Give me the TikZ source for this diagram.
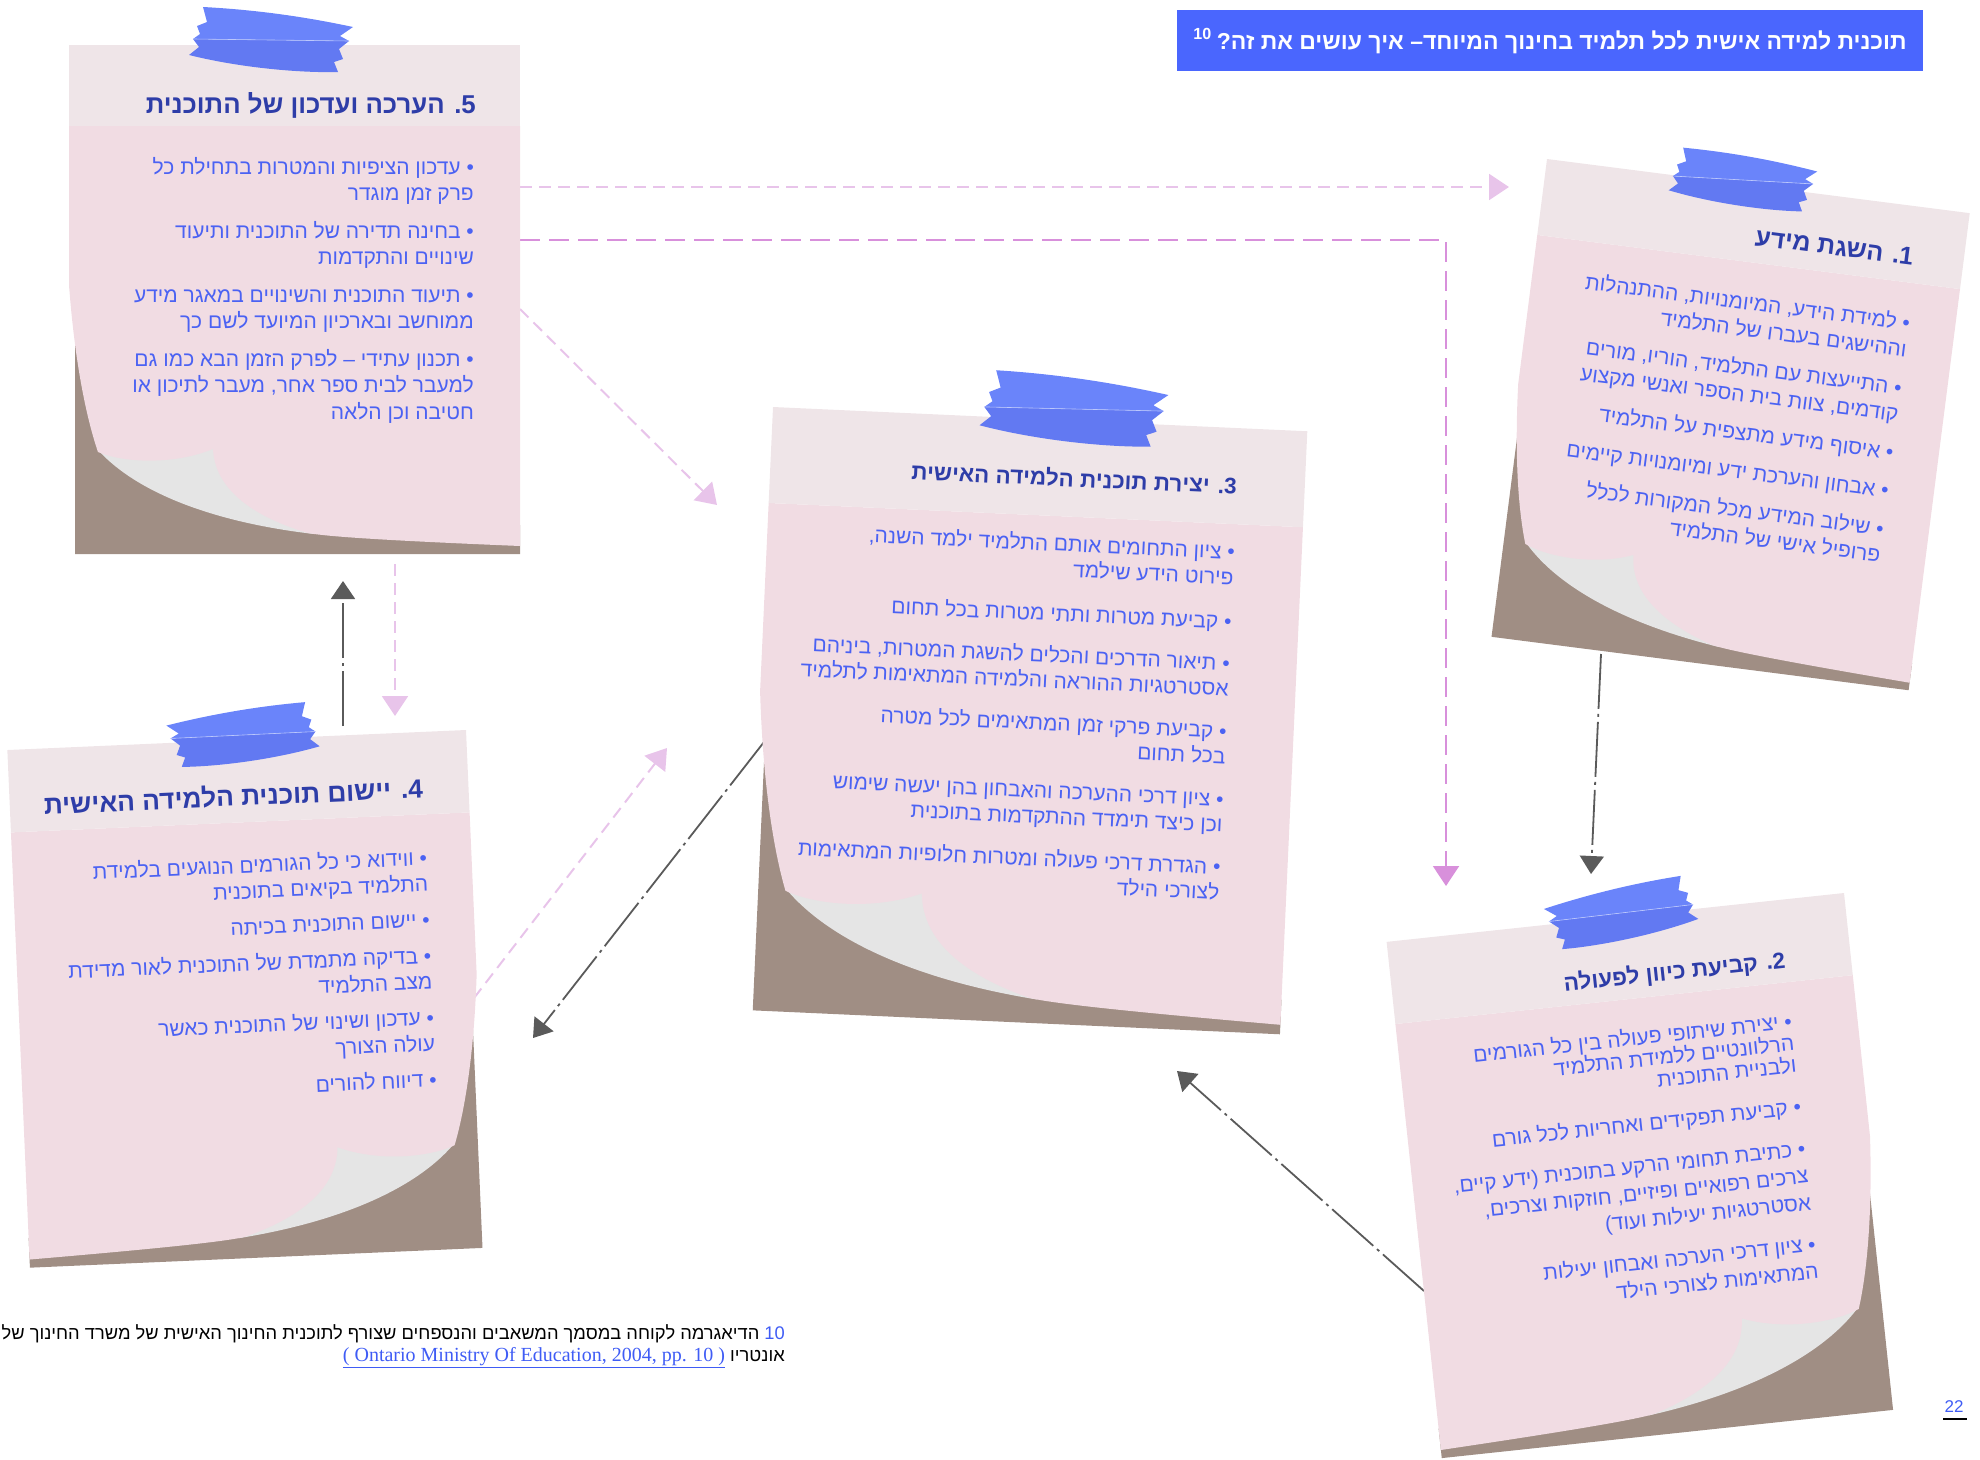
\documentclass[tikz,border=0pt]{standalone}
\usepackage{fontspec}
\usetikzlibrary{arrows.meta}
\setmainfont{Liberation Sans}
\newfontfamily\hebfont[Script=Hebrew]{Liberation Sans}
\newfontfamily\citefont{Liberation Serif}
\TeXXeTstate=1
\newcommand{\heb}[1]{\beginR #1\endR}

\definecolor{headpink}{HTML}{EFE5E8}
\definecolor{bodypink}{HTML}{F1DCE3}
\definecolor{curlgray}{HTML}{E5E5E5}
\definecolor{shadowbrown}{HTML}{A08E84}
\definecolor{tapelight}{HTML}{6A84FA}
\definecolor{tapedark}{HTML}{6279F2}
\definecolor{titleblue}{HTML}{2E3DA8}
\definecolor{textblue}{HTML}{4B62F3}
\definecolor{boxblue}{HTML}{4A66FE}
\definecolor{linkblue}{HTML}{3F5CF5}
\definecolor{arrowpink}{HTML}{E8C4EA}
\definecolor{arrowviolet}{HTML}{D890DB}
\definecolor{arrowgray}{HTML}{5A5A5A}

% hoja con esquina doblada (451 x 509)
\newcommand{\notepaper}{%
  \fill[shadowbrown] (6,240) -- (6,509) -- (451,509) -- (451,480) -- cycle;
  \fill[curlgray] (29,405) .. controls (70,450) and (150,478) .. (245,489) -- (200,390) -- (29,390) -- cycle;
  \fill[bodypink] (0,81) -- (451,81) -- (451,501) .. controls (330,496) and (260,492) .. (239,488)
    .. controls (185,472) and (146,445) .. (144,404) .. controls (105,420) and (55,418) .. (29,407)
    .. controls (18,375) and (6,320) .. (0,240) -- cycle;
  \fill[headpink] (0,0) rectangle (451,81);
}
% cinta adhesiva
\newcommand{\notetape}{%
  \fill[tapelight] (-68,-33) .. controls (-10,-30) and (40,-22) .. (82,-13) -- (69,-4) -- (78,1) -- (-78,-1) -- (-71,-6) -- (-74,-14) -- (-64,-18) -- cycle;
  \fill[tapedark] (-78,-1) -- (78,1) -- (68,9) -- (72,19) -- (63,22) -- (67,32) .. controls (30,33) and (-30,28) .. (-82,15) -- (-72,7) -- cycle;
  \draw[white!55!tapelight, line width=0.6pt] (-78,-1) -- (78,1);
}

\tikzset{
  pinkarrow/.style={arrowpink, line width=2pt, dash pattern=on 12pt off 7pt, -{Triangle[length=20pt,width=26pt]}},
  violetarrow/.style={arrowviolet, line width=2pt, dash pattern=on 20pt off 9pt, -{Triangle[length=20pt,width=26pt]}},
  grayarrow/.style={arrowgray, line width=1.8pt, dash pattern=on 55pt off 5pt on 3pt off 5pt, -{Triangle[length=18pt,width=24pt]}},
  notetitle/.style={font=\hebfont\bfseries\fontsize{25}{30}\selectfont, text=titleblue, inner sep=0pt, anchor=base east},
  notebody/.style={font=\hebfont\fontsize{21}{26.5}\selectfont, text=textblue, inner sep=0pt, align=right, anchor=north east},
}

\begin{document}
\begin{tikzpicture}[x=1pt, y=-1pt]
\useasboundingbox (0,0) rectangle (1980,1459);

% Flechas entre las notas
\coordinate (a51s) at (520,187);   \coordinate (a51e) at (1509,187);
\coordinate (a52s) at (520,240);   \coordinate (a52c) at (1446,240);  \coordinate (a52e) at (1446,886);
\coordinate (a53s) at (520,309);   \coordinate (a53e) at (717,505);
\coordinate (a54s) at (395,564);   \coordinate (a54e) at (395,716);
\coordinate (a45s) at (343,726);   \coordinate (a45e) at (343,581);
\coordinate (a43s) at (474,998);   \coordinate (a43e) at (667,748);
\coordinate (a34s) at (764,742);   \coordinate (a34e) at (533,1038);
\coordinate (a12s) at (1601,654);  \coordinate (a12e) at (1591,874);
\coordinate (a23s) at (1424,1291); \coordinate (a23e) at (1177,1071);
\draw[pinkarrow] (a51s) -- (a51e);
\draw[violetarrow] (a52s) -- (a52c) -- (a52e);
\draw[pinkarrow] (a53s) -- (a53e);
\draw[pinkarrow] (a54s) -- (a54e);
\draw[pinkarrow] (a43s) -- (a43e);
\draw[grayarrow] (a45s) -- (a45e);
\draw[grayarrow] (a34s) -- (a34e);
\draw[grayarrow] (a12s) -- (a12e);
\draw[grayarrow] (a23s) -- (a23e);

% Hojas
\begin{scope}[shift={(69,45)}] \notepaper \end{scope}
\begin{scope}[shift={(1547,159)}, rotate=-7.3, scale=0.945] \notepaper \end{scope}
\begin{scope}[shift={(773,407)}, rotate=-2.6, scale=1.186] \notepaper \end{scope}
\begin{scope}[shift={(466,730)}, rotate=2.5, xscale=-1, scale=1.018] \notepaper \end{scope}
\begin{scope}[shift={(1844,893)}, rotate=6.1, xscale=-1, scale=1.02] \notepaper \end{scope}

% Cintas
\begin{scope}[shift={(271,40)}] \notetape \end{scope}
\begin{scope}[shift={(1743,180)}, rotate=-2.5, scale=0.9] \notetape \end{scope}
\begin{scope}[shift={(1074,409)}, rotate=-0.6, scale=1.15] \notetape \end{scope}
\begin{scope}[shift={(243,735)}, rotate=2, xscale=-1, scale=0.93] \notetape \end{scope}
\begin{scope}[shift={(1621,913)}, rotate=6, xscale=-1, scale=0.93] \notetape \end{scope}

% Titulo
\fill[boxblue] (1177,10) rectangle (1923,71);
\node[font=\hebfont\bfseries\fontsize{23}{28}\selectfont, text=white, anchor=base, inner sep=0pt] (ttl) at (1550,49)
  {\heb{תוכנית למידה אישית לכל תלמיד בחינוך המיוחד\kern0pt– איך עושים את זה\kern0pt?\kern5pt\textsuperscript{10}}};

% Nota 5
\begin{scope}[shift={(69,45)}]
\node[notetitle, font=\hebfont\bfseries\fontsize{25.8}{30}\selectfont] (t5) at (407,68) {\heb{5\kern0pt. הערכה ועדכון של התוכנית}};
\node[notebody] (b5) at (405,110.5) {\strut\heb{• עדכון הציפיות והמטרות בתחילת כל}\\
  \heb{פרק זמן מוגדר}\\[11pt]
  \heb{• בחינה תדירה של התוכנית ותיעוד}\\
  \heb{שינויים והתקדמות}\\[11pt]
  \heb{• תיעוד התוכנית והשינויים במאגר מידע}\\
  \heb{ממוחשב ובארכיון המיועד לשם כך}\\[11pt]
  \heb{• תכנון עתידי – לפרק הזמן הבא כמו גם}\\
  \heb{למעבר לבית ספר אחר, מעבר לתיכון או}\\
  \heb{חטיבה וכן הלאה}};
\end{scope}

% Nota 1
\begin{scope}[shift={(1547,159)}, rotate=-7.3, transform shape]
\node[notetitle] (t1) at (376,59) {\heb{1\kern0pt. השגת מידע}};
\node[notebody] (b1) at (381,105.5) {\strut\heb{• למידת הידע, המיומנויות, ההתנהלות}\\
  \heb{וההישגים בעברו של התלמיד}\\[12pt]
  \heb{• התייעצות עם התלמיד, הוריו, מורים}\\
  \heb{קודמים, צוות בית הספר ואנשי מקצוע}\\[12pt]
  \heb{• איסוף מידע מתצפית על התלמיד}\\[12pt]
  \heb{• אבחון והערכת ידע ומיומנויות קיימים}\\[12pt]
  \heb{• שילוב המידע מכל המקורות לכלל}\\
  \heb{פרופיל אישי של התלמיד}};
\end{scope}

% Nota 3
\begin{scope}[shift={(773,407)}, rotate=-2.6, transform shape]
\node[notetitle, font=\hebfont\bfseries\fontsize{22.5}{28}\selectfont] (t3) at (467,66) {\heb{3\kern0pt. יצירת תוכנית הלמידה האישית}};
\node[notebody, font=\hebfont\fontsize{21}{25.5}\selectfont] (b3) at (468,113) {\strut\heb{• ציון התחומים אותם התלמיד ילמד השנה,}\\
  \heb{פירוט הידע שילמד}\\[19pt]
  \heb{• קביעת מטרות ותתי מטרות בכל תחום}\\[16pt]
  \heb{• תיאור הדרכים והכלים להשגת המטרות, ביניהם}\\
  \heb{אסטרטגיות ההוראה והלמידה המתאימות לתלמיד}\\[17pt]
  \heb{• קביעת פרקי זמן המתאימים לכל מטרה}\\
  \heb{בכל תחום}\\[17pt]
  \heb{• ציון דרכי ההערכה והאבחון בהן יעשה שימוש}\\
  \heb{וכן כיצד תימדד ההתקדמות בתוכנית}\\[17pt]
  \heb{• הגדרת דרכי פעולה ומטרות חלופיות המתאימות}\\
  \heb{לצורכי הילד}};
\end{scope}

% Nota 4
\begin{scope}[shift={(7,750)}, rotate=2.5, transform shape]
\node[notetitle, font=\hebfont\bfseries\fontsize{26.3}{30}\selectfont] (t4) at (414,66) {\heb{4\kern0pt. יישום תוכנית הלמידה האישית}};
\node[notebody, font=\hebfont\fontsize{21}{26}\selectfont] (b4) at (415,114.8) {\strut\heb{• ווידוא כי כל הגורמים הנוגעים בלמידת}\\
  \heb{התלמיד בקיאים בתוכנית}\\[10pt]
  \heb{• יישום התוכנית בכיתה}\\[10pt]
  \heb{• בדיקה מתמדת של התוכנית לאור מדידת}\\
  \heb{מצב התלמיד}\\[10pt]
  \heb{• עדכון ושינוי של התוכנית כאשר}\\
  \heb{עולה הצורך}\\[10pt]
  \heb{• דיווח להורים}};
\end{scope}

% Nota 2
\begin{scope}[shift={(1387,941)}, rotate=6.1, transform shape]
\node[notetitle, font=\hebfont\bfseries\fontsize{22.7}{28}\selectfont] (t2) at (394,69) {\heb{2\kern0pt. קביעת כיוון לפעולה}};
\node[notebody, font=\hebfont\fontsize{21}{27}\selectfont] (b2) at (394,111.1) {\strut\heb{• יצירת שיתופי פעולה בין כל הגורמים}\\[-5pt]
  \heb{הרלוונטיים ללמידת התלמיד}\\[-5pt]
  \heb{ולבניית התוכנית}\\[15pt]
  \heb{• קביעת תפקידים ואחריות לכל גורם}\\[15pt]
  \heb{• כתיבת תחומי הרקע בתוכנית (ידע קיים,}\\
  \heb{צרכים רפואיים ופיזיים, חוזקות וצרכים,}\\
  \heb{אסטרטגיות יעילות ועוד)}\\[15pt]
  \heb{• ציון דרכי הערכה ואבחון יעילות}\\
  \heb{המתאימות לצורכי הילד}};
\end{scope}

% Nota al pie y numero de pagina
\node[font=\hebfont\fontsize{18.3}{22}\selectfont, align=right, anchor=base east, inner sep=0pt] (fn) at (785,1361)
  {\heb{\beginL{\color{linkblue}10}\endL{} הדיאגרמה לקוחה במסמך המשאבים והנספחים שצורף לתוכנית החינוך האישית של משרד החינוך של}\\
   \heb{אונטריו \beginL{\citefont\fontsize{20}{22}\selectfont\color{linkblue}\underline{( Ontario Ministry Of Education, 2004, pp. 10 )}}\endL}};
\node[font=\fontsize{17}{20}\selectfont, text=linkblue, anchor=base, inner sep=0pt] (pg) at (1954,1412) {22};
\draw[black, line width=1.2pt] (1943,1419) -- (1967,1419);
\end{tikzpicture}
\end{document}
